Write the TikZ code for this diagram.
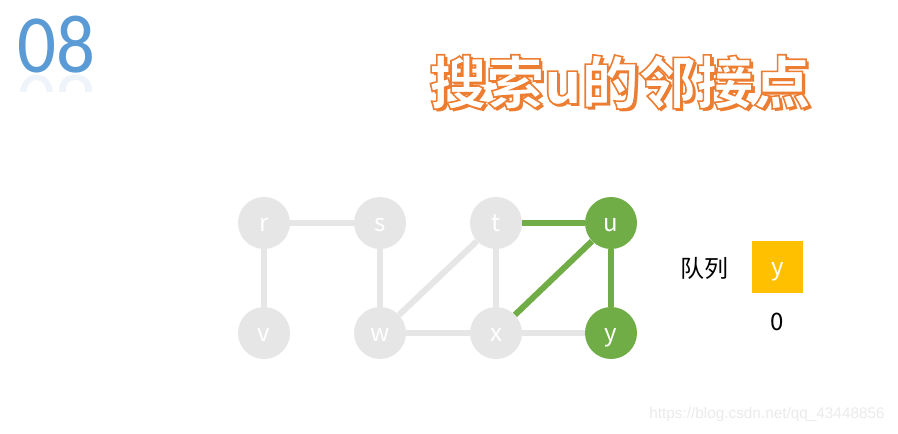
\documentclass[tikz,border=0pt]{standalone}
\usepackage{fontspec}
\setmainfont{Noto Sans CJK SC}
\newfontfamily\digitfont{Carlito}
\newfontfamily\markfont{Liberation Sans}
\usetikzlibrary{positioning}
\definecolor{bfsgray}{HTML}{E6E6E6}
\definecolor{bfsgreen}{HTML}{70AD47}
\definecolor{bfsorange}{HTML}{ED7D31}
\definecolor{bfsyellow}{HTML}{FFC000}
\definecolor{bfsblue}{HTML}{5B9BD5}
\newcommand\outlinetext[1]{\special{pdf:literal direct 2 Tr 1.2 w 0.929 0.490 0.192 RG 1 1 1 rg}#1\special{pdf:literal direct 0 Tr}}

\begin{document}
\begin{tikzpicture}[x=.75pt,y=-.75pt,
  vert/.style={circle,fill=bfsgray,minimum size=39pt,inner sep=0pt,text=white,text height=12.5pt,text depth=0pt,font=\fontsize{18}{18}\selectfont},
  seen/.style={vert,fill=bfsgreen},
  edge/.style={bfsgray,line width=4.5pt},
  tree/.style={bfsgreen,line width=4.5pt},
  titletext/.style={font=\fontsize{43}{43}\selectfont\bfseries,inner sep=0pt}]
\useasboundingbox (0,0) rectangle (898,434);
\fill[white] (0,0) rectangle (898,434);
% section number with its faint mirror image
\node[font=\digitfont\fontsize{62}{62}\selectfont,text=bfsblue,inner sep=0pt,xscale=.93] (num) at (56,45) {08};
\begin{scope}
\clip (0,75) rectangle (120,92);
\node[font=\digitfont\fontsize{62}{62}\selectfont,text=bfsblue,inner sep=0pt,xscale=.93,yscale=-1,opacity=.1] (numr) at (56,103) {08};
\end{scope}
% title: shadow, then outlined white face
\node[titletext,text=bfsorange] (shadow) at (623,85) {搜索u的邻接点};
\node[titletext] (title) at (620,82) {\outlinetext{搜索u的邻接点}};
% graph
\node[vert] (r) at (264,223) {r};
\node[vert] (s) at (380,223) {s};
\node[vert] (t) at (496,223) {t};
\node[seen] (u) at (611,223) {u};
\node[vert] (v) at (264,333) {v};
\node[vert] (w) at (380,333) {w};
\node[vert] (x) at (496,333) {x};
\node[seen] (y) at (611,333) {y};
\draw[edge] (r) -- (s);
\draw[edge] (r) -- (v);
\draw[edge] (s) -- (w);
\draw[edge] (w) -- (t);
\draw[edge] (w) -- (x);
\draw[edge] (t) -- (x);
\draw[edge] (x) -- (y);
\draw[tree] (t) -- (u);
\draw[tree] (u) -- (x);
\draw[tree] (u) -- (y);
% queue
\node[font=\fontsize{18}{18}\selectfont] (qlabel) at (704,268) {队列};
\node[fill=bfsyellow,minimum size=38.25pt,inner sep=0pt,text=white,text height=12.5pt,text depth=0pt,font=\fontsize{18}{18}\selectfont] (qy) at (777.5,267) {y};
\node[font=\fontsize{18}{18}\selectfont] (qidx) at (777.5,322) {0};
\node[font=\markfont\fontsize{11.5}{11.5}\selectfont,text=black!8] (mark) at (767,415) {https://blog.csdn.net/qq\_43448856};
\end{tikzpicture}
\end{document}
